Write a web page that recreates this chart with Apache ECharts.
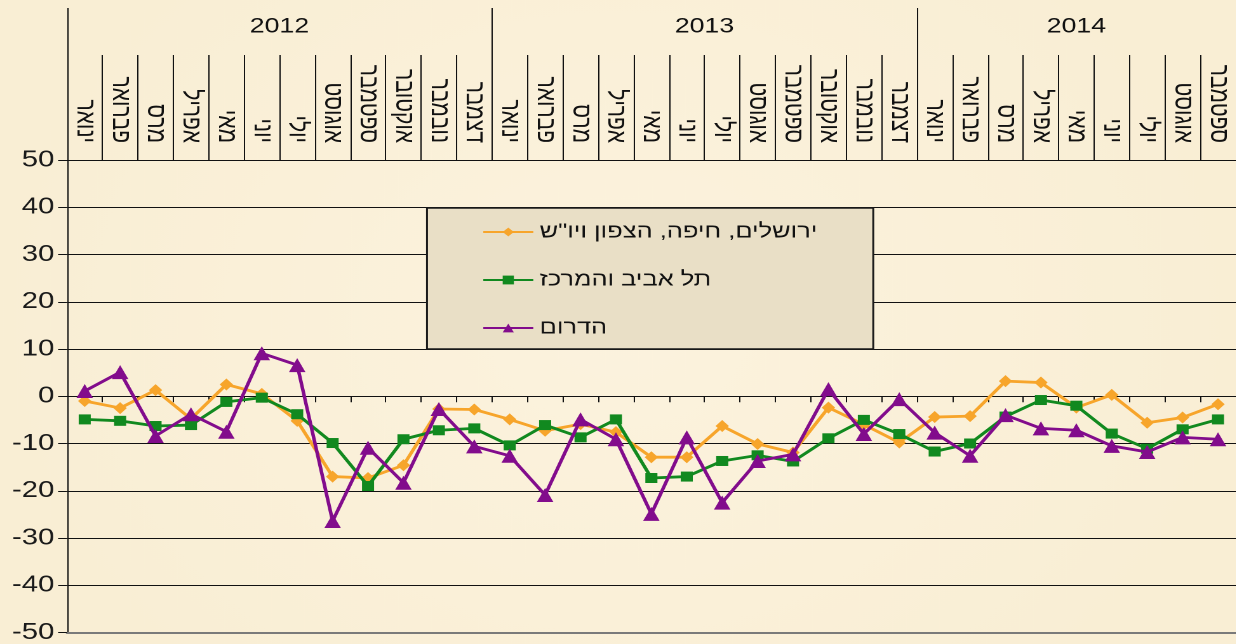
<!DOCTYPE html>
<html>
<head>
<meta charset="utf-8">
<script src="https://cdn.jsdelivr.net/npm/echarts@6/dist/echarts.min.js"></script>
<style>
  html, body { margin: 0; padding: 0; background: #f9eed5; overflow: hidden; }
  /* the source picture is stretched sideways, so the chart is drawn narrow and widened */
  #chart { width: 973px; height: 644px; transform: scaleX(1.27); transform-origin: 0 0; }
</style>
</head>
<body>
<div id="chart"></div>
<script>
// month names, years and the three regional series
const monthNames = ['ינואר', 'פברואר', 'מרס', 'אפריל', 'מאי', 'יוני', 'יולי', 'אוגוסט', 'ספטמבר', 'אוקטובר', 'נובמבר', 'דצמבר']
const years = ['2012', '2013', '2014']
const monthsPerYear = [12, 12, 9]
const seriesNames = ['ירושלים, חיפה, הצפון ויו"ש', 'תל אביב והמרכז', 'הדרום']

const jerusalem = [-1.0, -2.5, 1.3, -4.8, 2.5, 0.5, -5.2, -17.0, -17.3, -14.6, -2.7, -2.8, -4.9, -7.3, -5.9, -7.6, -12.9, -12.9, -6.3, -10.1, -11.9, -2.4, -6.0, -9.8, -4.4, -4.2, 3.2, 2.9, -2.4, 0.3, -5.6, -4.5, -1.7]
const telAviv = [-4.9, -5.2, -6.3, -6.1, -1.2, -0.3, -3.8, -9.9, -19.0, -9.1, -7.2, -6.8, -10.4, -6.1, -8.7, -4.9, -17.3, -17.0, -13.7, -12.5, -13.8, -8.9, -5.0, -8.0, -11.7, -10.0, -4.3, -0.8, -2.0, -7.9, -11.1, -7.0, -4.9]
const south = [1.1, 5.1, -8.4, -3.8, -7.5, 9.1, 6.6, -26.4, -10.9, -18.3, -2.7, -10.6, -12.6, -20.9, -4.9, -9.1, -24.9, -8.7, -22.5, -13.7, -12.3, 1.5, -8.0, -0.6, -7.7, -12.6, -4.0, -6.8, -7.2, -10.5, -11.8, -8.7, -9.1]

const colors = ['#f7a52b', '#11891f', '#820c8c']
const font = '"Liberation Sans", Arial, "DejaVu Sans", sans-serif'
const SX = 1.27 // horizontal stretch applied by css

// categories: month name per point
const months = []
const yearStart = []
years.forEach((y, k) => {
  yearStart.push(months.length)
  for (let m = 0; m < monthsPerYear[k]; m++) months.push(monthNames[m])
})
// index where each year's label sits (middle of its group)
const yearLabelAt = {}
years.forEach((y, k) => {
  const mid = yearStart[k] + monthsPerYear[k] / 2
  yearLabelAt[Math.floor(mid)] = { text: y, half: mid % 1 === 0 }
})

const el = document.getElementById('chart')
const chart = echarts.init(el, null, { devicePixelRatio: 2 })

const markers = ['diamond', 'rect', 'triangle']
const markerSize = [[10.5, 12], [9.5, 10], [13, 14]]
const data = [jerusalem, telAviv, south]
const colW = 1171 / SX / months.length

chart.setOption({
  backgroundColor: {
    type: 'radial', x: 0.5, y: 0.5, r: 0.8,
    colorStops: [{ offset: 0, color: '#fcf3de' }, { offset: 1, color: '#f9eed4' }]
  },
  textStyle: { fontFamily: font },
  animation: false,
  grid: { left: 67 / SX, top: 160, width: 1171 / SX, height: 473 },
  legend: {
    orient: 'vertical',
    left: 427 / SX, top: 208,
    padding: [14, 44, 11, 55 / SX],
    itemGap: 28,
    itemWidth: 50 / SX,
    itemHeight: 11,
    backgroundColor: '#e9dfc6',
    borderColor: '#1a1a1a',
    borderWidth: 1.5,
    textStyle: { fontSize: 20, color: '#111', fontFamily: font },
    data: seriesNames
  },
  xAxis: [
    {
      // axis on the zero line with downward ticks
      type: 'category', data: months, position: 'bottom',
      axisLine: { onZero: true, lineStyle: { color: '#111', width: 1 } },
      axisTick: { show: true, length: 6, interval: 0, lineStyle: { color: '#111' } },
      axisLabel: { show: false },
      splitLine: { show: false }
    },
    {
      // month labels in the header
      type: 'category', data: months, position: 'top',
      axisLine: { show: true, onZero: false, lineStyle: { color: '#111' } },
      axisTick: { show: true, length: 105, interval: 0, lineStyle: { color: '#111' } },
      axisLabel: { interval: 0, rotate: 90, margin: 17, fontSize: 21, color: '#111', fontFamily: font },
      splitLine: { show: false }
    },
    {
      // year labels and year dividers
      type: 'category', data: months, position: 'top',
      axisLine: { show: false, onZero: false },
      axisTick: { show: true, length: 152, interval: i => yearStart.includes(i), lineStyle: { color: '#111' } },
      axisLabel: {
        interval: i => yearLabelAt[i] !== undefined,
        margin: 123, fontSize: 21, color: '#111', fontFamily: font,
        formatter: (v, i) => {
          const y = yearLabelAt[i]
          if (!y) return ''
          return y.half ? '{h|' + y.text + '}' : '{c|' + y.text + '}'
        },
        rich: {
          h: { fontSize: 21, color: '#111', fontFamily: font, padding: [0, colW, 0, 0] },
          c: { fontSize: 21, color: '#111', fontFamily: font }
        }
      },
      splitLine: { show: false }
    },
    {
      // grey bottom border at -50
      type: 'category', data: months, position: 'bottom',
      axisLine: { show: true, onZero: false, lineStyle: { color: '#7a7a7a', width: 2 } },
      axisTick: { show: false },
      axisLabel: { show: false }
    }
  ],
  yAxis: {
    type: 'value', min: -50, max: 50, interval: 10,
    axisLine: { show: true, lineStyle: { color: '#111' } },
    axisTick: { show: true, length: 7, lineStyle: { color: '#111' } },
    axisLabel: { fontSize: 23, color: '#1a1a1a', margin: 10, fontFamily: font },
    splitLine: { show: true, lineStyle: { color: '#111', width: 1 } }
  },
  series: seriesNames.map((name, k) => ({
    name,
    type: 'line',
    data: data[k],
    symbol: markers[k],
    symbolSize: markerSize[k],
    lineStyle: { color: colors[k], width: 2.8 },
    itemStyle: { color: colors[k] },
    z: 3 + k
  }))
})
</script>
</body>
</html>
